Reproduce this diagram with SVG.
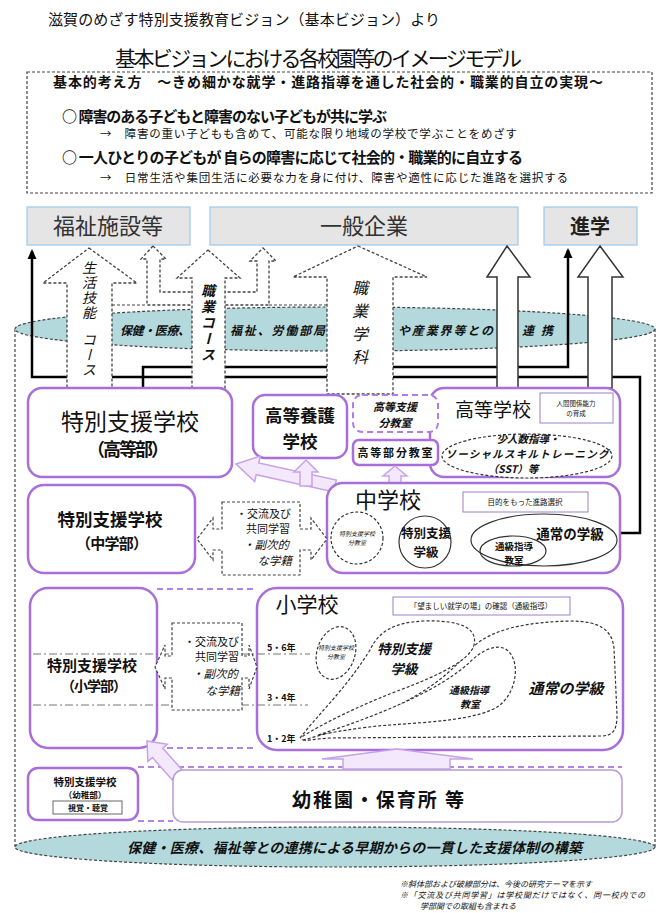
<svg xmlns="http://www.w3.org/2000/svg" width="658" height="913" viewBox="0 0 658 913">
<style>
text{font-family:'Noto Sans CJK JP','Noto Sans CJK SC',sans-serif;fill:#111}
.b{font-weight:bold}
.i{font-style:italic}
.c{text-anchor:middle}
.e{text-anchor:end}
.v{writing-mode:tb}
.dash{fill:none;stroke:#444;stroke-width:1.2;stroke-dasharray:3 2}
.arw{fill:#fff;stroke:#444;stroke-width:1.3;stroke-dasharray:3 2}
.arws{fill:#fff;stroke:#333;stroke-width:1.5}
.pbox{fill:#fff;stroke:#a86fdc;stroke-width:2.5}
.pdash{fill:none;stroke:#b484e4;stroke-width:2;stroke-dasharray:6 4}
.pdashbox{fill:#fff;stroke:#b07de2;stroke-width:2;stroke-dasharray:6 4}
.parw{fill:#f3e8fc;stroke:#c7a2ea;stroke-width:1.5}
.dest{fill:#e5e5e5;stroke:#9cc7ea;stroke-width:1.2}
.band{fill:#b3d9dd;stroke:#444;stroke-width:1.2;stroke-dasharray:3 2}
.blk{fill:none;stroke:#000;stroke-width:2.5}
.tiny{fill:#fff;stroke:#9a80c4;stroke-width:1}
.dd{fill:none;stroke:#777;stroke-width:1.2;stroke-dasharray:8 3 2 3}
.ol{fill:none;stroke:#333;stroke-width:1.2}
.old{fill:#fff;stroke:#333;stroke-width:1.2;stroke-dasharray:3 2}
.xbox{fill:#fff;stroke:#444;stroke-width:1.2;stroke-dasharray:3 2}
</style>
<defs>
<marker id="ah" viewBox="0 0 10 10" refX="8" refY="5" markerWidth="4" markerHeight="4" orient="auto"><path d="M0,0.5 L10,5 L0,9.5 z" fill="#000"/></marker>
</defs>

<g id="header">
<text x="48" y="25" font-size="15" textLength="392">滋賀のめざす特別支援教育ビジョン（基本ビジョン）より</text>
<text x="115" y="66" font-size="21" textLength="407">基本ビジョンにおける各校園等のイメージモデル</text>
</g>

<g id="concept">
<rect x="27" y="72" width="625" height="121" class="dash"/>
<text x="53" y="87" font-size="14" class="b" textLength="550">基本的考え方　～きめ細かな就学・進路指導を通した社会的・職業的自立の実現～</text>
<text x="62" y="122" font-size="15" class="b" textLength="325">○ 障害のある子どもと障害のない子どもが共に学ぶ</text>
<text x="100" y="138" font-size="11.5" textLength="417">→　障害の重い子どもも含めて、可能な限り地域の学校で学ぶことをめざす</text>
<text x="62" y="163" font-size="15" class="b" textLength="461">○ 一人ひとりの子どもが 自らの障害に応じて社会的・職業的に自立する</text>
<text x="100" y="182" font-size="11.5" textLength="468">→　日常生活や集団生活に必要な力を身に付け、障害や適性に応じた進路を選択する</text>
</g>

<g id="dest-fukushi"><rect x="27" y="207" width="163" height="38" class="dest"/><text x="108" y="234" font-size="22" class="c" style="fill:#333">福祉施設等</text></g>
<g id="dest-kigyo"><rect x="210" y="207" width="308" height="38" class="dest"/><text x="364" y="234" font-size="22" class="c" style="fill:#333">一般企業</text></g>
<g id="dest-shingaku"><rect x="544" y="207" width="93" height="38" class="dest"/><text x="590" y="234" font-size="20" class="c b" style="fill:#222">進学</text></g>

<g id="cylinder">
<line x1="15" y1="329" x2="15" y2="847" class="dash"/>
<line x1="655" y1="329" x2="655" y2="847" class="dash"/>
<ellipse cx="335" cy="847" rx="320" ry="20" class="band"/>
<text x="127" y="853" font-size="14" class="b i" textLength="455">保健・医療、福祉等との連携による早期からの一貫した支援体制の構築</text>
<ellipse cx="335" cy="329" rx="320" ry="22" class="band"/>
<text x="120" y="335" font-size="12" class="b i" textLength="70">保健・医療、</text>
<text x="230" y="335" font-size="12" class="b i" textLength="95">福祉、労働部局</text>
<text x="398" y="335" font-size="12" class="b i" textLength="95">や産業界等との</text>
<text x="522" y="335" font-size="12" class="b i" textLength="31">連携</text>
</g>

<g id="connectors">
<polyline points="620,533 640,533 640,377 32,377 32,251" class="blk" marker-end="url(#ah)"/>
<polyline points="143,388 143,367 568,367 568,250" class="blk" marker-end="url(#ah)"/>
</g>

<g id="arrow-seikatsu">
<polygon points="89,248 137,283 112,283 112,388 67,388 67,283 43,283" class="arw"/>
<text x="89" y="261" font-size="14" class="v i" letter-spacing="1">生活技能<tspan dy="12">コース</tspan></text>
</g>
<g id="arrow-shokugyo-course">
<polygon points="153,246 166,259 160,259 160,292 195,292 195,305 147,305 147,259 141,259" class="arw"/>
<polygon points="263,248 276,261 269,261 269,305 222,305 222,292 257,292 257,261 250,261" class="arw"/>
<line x1="112" y1="305" x2="147" y2="305" class="dash"/>
<line x1="269" y1="305" x2="327" y2="305" class="dash"/>
<polygon points="208,250 240,278 225,278 225,388 192,388 192,278 177,278" class="arw"/>
<text x="208" y="284" font-size="14" class="v i b" letter-spacing="2">職業コース</text>
</g>
<g id="arrow-shokugyo-gakka">
<polygon points="358,246 427,277 393,277 393,394 327,394 327,277 293,277" class="arw"/>
<text x="360" y="280" font-size="16" class="v i" letter-spacing="7">職業学科</text>
</g>
<g id="arrow-koko-kigyo"><polygon points="507,246 530,277 518,277 518,388 497,388 497,277 487,277" class="arws"/></g>
<g id="arrow-koko-shingaku"><polygon points="600,246 623,277 612,277 612,388 588,388 588,277 578,277" class="arws"/></g>

<g id="tokushi-kotobu">
<rect x="28" y="388" width="204" height="89" rx="14" class="pbox"/>
<text x="130" y="430" font-size="23" class="c">特別支援学校</text>
<text x="128" y="456" font-size="18" class="c b" textLength="82">（高等部）</text>
</g>
<g id="koto-yogo">
<rect x="253" y="395" width="94" height="63" rx="12" class="pbox"/>
<text x="300" y="422" font-size="17.5" class="c" style="font-weight:600">高等養護</text>
<text x="300" y="448" font-size="17.5" class="c" style="font-weight:600">学校</text>
</g>
<g id="kotogakko">
<rect x="430" y="388" width="190" height="89" rx="14" class="pbox"/>
<text x="493" y="417" font-size="19" class="c">高等学校</text>
<rect x="540" y="393" width="73" height="30" class="tiny"/>
<text x="576" y="406" font-size="6.5" class="c">人間関係能力</text>
<text x="576" y="416" font-size="6.5" class="c">の育成</text>
<ellipse cx="527" cy="456" rx="85" ry="22" class="old"/>
<text x="528" y="443" font-size="10.5" class="c b i">少人数指導・</text>
<text x="527" y="458" font-size="10.5" class="c b i" textLength="163">ソーシャルスキルトレーニング</text>
<text x="513" y="473" font-size="10.5" class="c b i">（SST）等</text>
</g>
<g id="koto-shien-bunkyoshitsu">
<rect x="353" y="395" width="85" height="37" rx="9" class="pdashbox"/>
<text x="395" y="411" font-size="11" class="c b i">高等支援</text>
<text x="395" y="427" font-size="11" class="c b i">分教室</text>
</g>
<g id="kotobu-bunkyoshitsu">
<rect x="353" y="440" width="85" height="25" rx="6" class="pbox"/>
<text x="395" y="457" font-size="11" class="c b" textLength="75">高等部分教室</text>
</g>

<g id="purple-arrows-upper">
<polygon points="236,464 260.3,456.1 258.8,463 336.3,480.1 333.7,491.9 256.2,474.7 254.7,481.5" class="parw"/>
<polygon points="306,460 318,472 312,472 312,486 300,486 300,472 294,472" class="parw"/>
<polygon points="395,466 407,476 401,476 401,486 389,486 389,476 383,476" class="parw"/>
</g>

<g id="tokushi-chugakubu">
<rect x="28" y="485" width="167" height="88" rx="16" class="pbox"/>
<text x="110" y="526" font-size="17.5" class="c b">特別支援学校</text>
<text x="112" y="549" font-size="15" class="c b" textLength="72">（中学部）</text>
</g>
<g id="chugakko">
<rect x="327" y="483" width="293" height="90" rx="16" class="pbox"/>
<text x="388" y="508" font-size="22" class="c">中学校</text>
<rect x="463" y="492" width="125" height="20" class="tiny"/>
<text x="525" y="505" font-size="7.5" class="c">目的をもった進路選択</text>
<circle cx="357" cy="538" r="26" class="old"/>
<text x="357" y="536" font-size="6" class="c i">特別支援学校</text>
<text x="357" y="545" font-size="6" class="c i">分教室</text>
<circle cx="425" cy="542" r="26" class="ol"/>
<text x="426" y="538" font-size="12.5" class="c b">特別支援</text>
<text x="426" y="557" font-size="12.5" class="c b">学級</text>
<ellipse cx="544" cy="540" rx="73" ry="26" class="ol"/>
<text x="570" y="539" font-size="13.5" class="c b">通常の学級</text>
<ellipse cx="513" cy="551" rx="33" ry="15" class="ol"/>
<text x="514" y="550" font-size="9.5" class="c b">通級指導</text>
<text x="514" y="564" font-size="9.5" class="c b">教室</text>
</g>
<g id="koryu-chu">
<polygon points="222,502 300,502 300,529 311,529 311,518 327,539 311,560 311,550 300,550 300,575 222,575 222,550 213,550 213,560 197,539 213,518 213,529 222,529" class="xbox"/>
<text x="291" y="518" font-size="11" class="e">・交流及び</text>
<text x="290" y="533" font-size="11" class="e">共同学習</text>
<text x="289" y="549" font-size="11.5" class="e i">・副次的</text>
<text x="292" y="565" font-size="11.5" class="e i">な学籍</text>
</g>

<g id="elementary-frame">
<line x1="157" y1="589" x2="257" y2="589" class="pdash"/>
<line x1="157" y1="748" x2="257" y2="748" class="pdash"/>
</g>
<g id="tokushi-shogakubu">
<rect x="30" y="588" width="127" height="160" rx="18" class="pbox"/>
</g>
<g id="shogakko">
<rect x="257" y="588" width="366" height="162" rx="20" class="pbox"/>
<text x="307" y="612" font-size="21" class="c">小学校</text>
<rect x="393" y="597" width="177" height="18" class="tiny"/>
<text x="481" y="609" font-size="7.5" class="c">「望ましい就学の場」の確認（通級指導）</text>
<path d="M303,740 C360,725 430,700 470,650 C490,628 530,622 570,621 C600,621 612,630 614,648 L617,715 C617,732 612,736 600,736 L330,738 C315,739 305,741 303,740 Z" class="old"/>
<path d="M300,738 C320,712 345,690 370,650 C378,633 392,622 425,621 C460,620 478,628 474,645 C470,660 440,675 400,690 C360,705 320,725 300,738 Z" class="old"/>
<path d="M318,735 C380,715 440,690 470,662 C482,650 497,643 507,650 C520,660 518,690 500,705 C480,720 430,722 390,725 C360,727 330,733 318,735 Z" class="old"/>
<ellipse cx="336" cy="653" rx="19" ry="27" transform="rotate(18 336 653)" class="old"/>
<text x="336" y="650" font-size="6" class="c i">特別支援学校</text>
<text x="336" y="659" font-size="6" class="c i">分教室</text>
<text x="404" y="654" font-size="13.5" class="c b i">特別支援</text>
<text x="404" y="674" font-size="13.5" class="c b i">学級</text>
<text x="469" y="694" font-size="10" class="c b i">通級指導</text>
<text x="470" y="708" font-size="10" class="c b i">教室</text>
<text x="566" y="694" font-size="15" class="c b i">通常の学級</text>
</g>
<g id="grade-lines">
<line x1="33" y1="654" x2="310" y2="654" class="dd"/>
<line x1="33" y1="705" x2="308" y2="705" class="dd"/>
<text x="267" y="651" font-size="9" class="b">5・6年</text>
<text x="267" y="701" font-size="9" class="b">3・4年</text>
<text x="267" y="742" font-size="9" class="b">1・2年</text>
</g>
<g id="shogakubu-label">
<text x="92" y="671" font-size="15" class="c b">特別支援学校</text>
<text x="94" y="691" font-size="14" class="c b" textLength="66">（小学部）</text>
</g>
<g id="koryu-sho">
<polygon points="172,623 242,623 242,656 249,656 249,645 257,667 249,689 249,678 242,678 242,710 172,710 172,678 165,678 165,689 155,667 165,645 165,656 172,656" class="xbox"/>
<text x="239" y="646" font-size="11" class="e">・交流及び</text>
<text x="239" y="661" font-size="11" class="e">共同学習</text>
<text x="238" y="678" font-size="11.5" class="e i">・副次的</text>
<text x="240" y="695" font-size="11.5" class="e i">な学籍</text>
</g>

<g id="kinder-frame">
<line x1="138" y1="767" x2="622" y2="767" class="pdash"/>
<line x1="138" y1="821" x2="173" y2="821" class="pdash"/>
</g>
<g id="purple-arrows-lower">
<polygon points="397,749 473,759 450,759 450,769 343,769 343,759 322,759" class="parw"/>
<polygon points="147,741 167.3,744.3 162.8,748.2 185.2,773.3 174.8,782.7 152.4,757.6 147.9,761.5" class="parw"/>
</g>
<g id="tokushi-yochibu">
<rect x="28" y="768" width="110" height="52" rx="10" class="pbox"/>
<text x="85" y="786" font-size="10.5" class="c b">特別支援学校</text>
<text x="85" y="798" font-size="8.5" class="c b">（幼稚部）</text>
<rect x="53" y="801" width="69" height="13" class="tiny" style="stroke:#666"/>
<text x="88" y="811" font-size="8" class="c b">視覚・聴覚</text>
</g>
<g id="yochien">
<rect x="173" y="770" width="449" height="52" rx="10" style="fill:#fff;stroke:#b89ad8;stroke-width:1.5"/>
<text x="292" y="807" font-size="19" class="b" textLength="172">幼稚園・保育所 等</text>
</g>

<g id="notes">
<text x="400" y="887" font-size="8" class="i">※斜体部および破線部分は、今後の研究テーマを示す</text>
<text x="400" y="898" font-size="8" class="i" textLength="245">※「交流及び共同学習」は学校間だけではなく、同一校内での</text>
<text x="420" y="909" font-size="8" class="i">学部間での取組も含まれる</text>
</g>
</svg>
